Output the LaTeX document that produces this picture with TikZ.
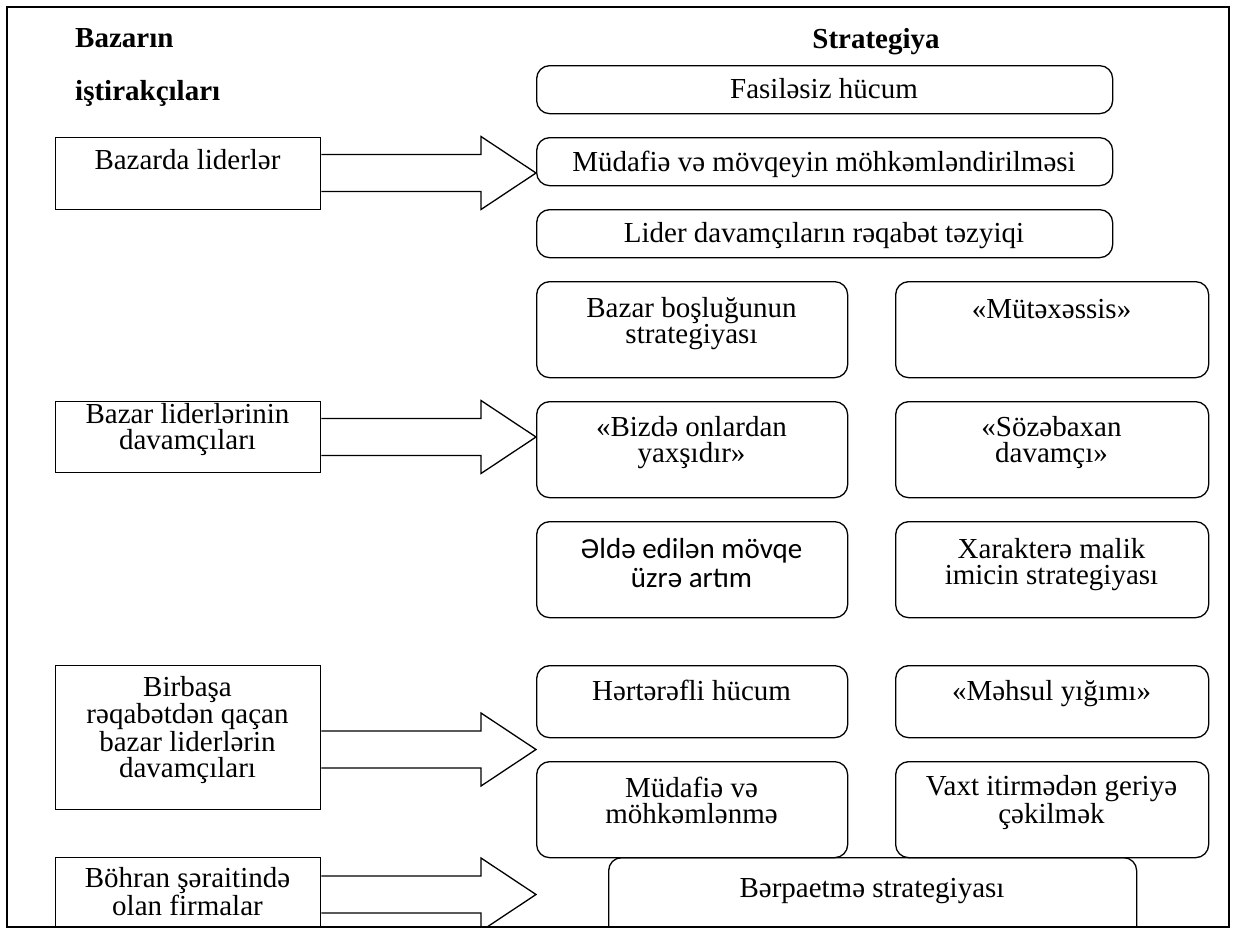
\documentclass[tikz,border=0pt]{standalone}
\usepackage{fontspec}
\setmainfont{Liberation Serif}
\newfontfamily\calfont{Carlito}
\usetikzlibrary{calc}
\tikzset{
  sqbox/.style={draw, line width=1.3pt, inner sep=0pt, anchor=north west},
  rbox/.style={sqbox, rounded corners=13pt},
  txt/.style={font=\fontsize{29}{26}\selectfont, align=center, anchor=base, inner sep=0pt},
  sanstxt/.style={txt, font=\calfont\fontsize{29}{29}\selectfont},
  hdr/.style={font=\fontsize{29}{26}\selectfont\bfseries, inner sep=0pt, anchor=base},
  blockarr/.style={draw, line width=1.3pt, line join=miter},
}
\newcommand\blockarrow[2]{%
  \draw[blockarr] ($(#1.east |- #2)+(0,-18.5)$) -- ($(#2)+(-55,-18.5)$) -- ($(#2)+(-55,-36.5)$) -- (#2)
    -- ($(#2)+(-55,36.5)$) -- ($(#2)+(-55,18.5)$) -- ($(#1.east |- #2)+(0,18.5)$);}
\begin{document}
\begin{tikzpicture}[x=1pt, y=-1pt]
\useasboundingbox (0,0) rectangle (1233,929);
\fill[white] (0,0) rectangle (1233,929);
\begin{scope}
\clip (0,0) rectangle (1233,927);

% headers
\node[hdr, anchor=base west] (h1) at (75,47) {Bazarın};
\node[hdr, anchor=base west] (h2) at (75,100) {iştirakçıları};
\node[hdr] (h3) at (876,48) {Strategiya};

% top wide boxes
\node[rbox, minimum width=576, minimum height=48] (fas) at (536,65) {};
\node[rbox, minimum width=576, minimum height=48] (mud) at (536,137) {};
\node[rbox, minimum width=576, minimum height=48] (lid) at (536,209) {};
\node[txt] (tfas) at (824,98) {Fasiləsiz hücum};
\node[txt] (tmud) at (824,171) {Müdafiə və mövqeyin möhkəmləndirilməsi};
\node[txt] (tlid) at (824,242) {Lider davamçıların rəqabət təzyiqi};

% grid boxes
\node[rbox, minimum width=311, minimum height=96] (bos) at (536,281) {};
\node[rbox, minimum width=313, minimum height=96] (mut) at (895,281) {};
\node[rbox, minimum width=311, minimum height=96] (biz) at (536,401) {};
\node[rbox, minimum width=313, minimum height=96] (soz) at (895,401) {};
\node[rbox, minimum width=311, minimum height=96] (eld) at (536,521) {};
\node[rbox, minimum width=313, minimum height=96] (xar) at (895,521) {};
\node[rbox, minimum width=311, minimum height=72] (her) at (536,665) {};
\node[rbox, minimum width=313, minimum height=72] (meh) at (895,665) {};
\node[rbox, minimum width=311, minimum height=96] (mum) at (536,761) {};
\node[rbox, minimum width=313, minimum height=96] (vax) at (895,761) {};
\node[rbox, minimum width=528, minimum height=90] (ber) at (608,857) {};

% (multi-line texts are placed by the baseline of their last line)
\node[txt] (tbos) at (691.5,343) {Bazar boşluğunun\\strategiyası};
\node[txt] (tmut) at (1051.5,318) {«Mütəxəssis»};
\node[txt] (tbiz) at (691.5,462) {«Bizdə onlardan\\yaxşıdır»};
\node[txt] (tsoz) at (1051.5,462) {«Sözəbaxan\\davamçı»};
\node[sanstxt] (teld) at (691.5,587) {Əldə edilən mövqe\\üzrə artım};
\node[txt] (txar) at (1051.5,584) {Xarakterə malik\\imicin strategiyası};
\node[txt] (ther) at (691.5,700) {Hərtərəfli hücum};
\node[txt] (tmeh) at (1051.5,700) {«Məhsul yığımı»};
\node[txt] (tmum) at (691.5,823) {Müdafiə və\\möhkəmlənmə};
\node[txt] (tvax) at (1051.5,823) {Vaxt itirmədən geriyə\\çəkilmək};
\node[txt] (tber) at (872,897) {Bərpaetmə strategiyası};

% left boxes
\node[sqbox, minimum width=265, minimum height=72] (l1) at (55,137) {};
\node[sqbox, minimum width=265, minimum height=71] (l2) at (55,401) {};
\node[sqbox, minimum width=265, minimum height=144] (l3) at (55,665) {};
\node[sqbox, minimum width=265, minimum height=90] (l4) at (55,857) {};
\node[txt] (tl1) at (187.5,169) {Bazarda liderlər};
\node[txt] (tl2) at (187.5,449) {Bazar liderlərinin\\davamçıları};
\node[txt] (tl3) at (187.5,777) {Birbaşa\\rəqabətdən qaçan\\bazar liderlərin\\davamçıları};
\node[txt] (tl4) at (187.5,915) {Böhran şəraitində\\olan firmalar};

% arrow tips
\coordinate (t1) at (536,173);
\coordinate (t2) at (536,437);
\coordinate (t3) at (536,749.5);
\coordinate (t4) at (536,894.5);
\blockarrow{l1}{t1}
\blockarrow{l2}{t2}
\blockarrow{l3}{t3}
\blockarrow{l4}{t4}
\end{scope}

% frame
\draw[line width=1.5pt] (7,7) rectangle (1229,927);
\end{tikzpicture}
\end{document}
